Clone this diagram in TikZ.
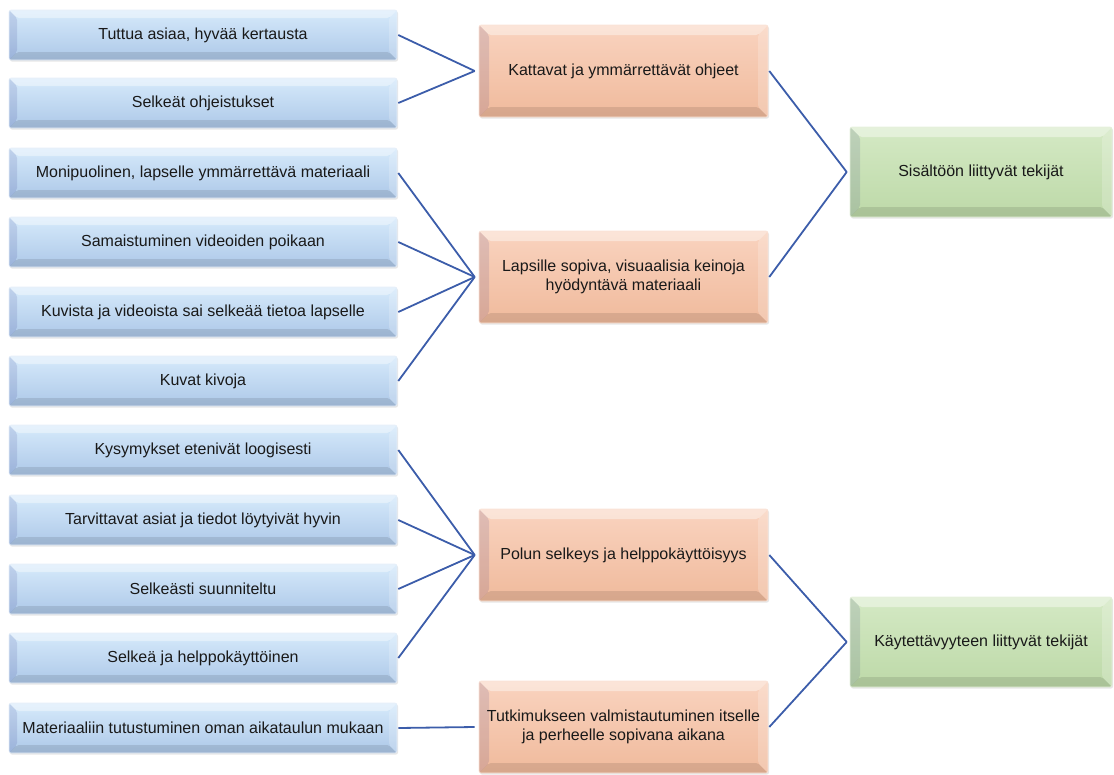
\documentclass[tikz,border=0pt]{standalone}
\usepackage{fontspec}
\setmainfont{Liberation Sans}
\usetikzlibrary{shadows}
\definecolor{bluetop}{HTML}{D6EAFB}
\definecolor{bluebot}{HTML}{ADC8E8}
\definecolor{orgtop}{HTML}{F9D3BF}
\definecolor{orgbot}{HTML}{F0BA9C}
\definecolor{grntop}{HTML}{D4E9C4}
\definecolor{grnbot}{HTML}{BDD9A8}
\definecolor{linkc}{HTML}{3C5DAA}
\tikzset{
  bevel/.style={path picture={
    \coordinate (nw) at (path picture bounding box.north west);
    \coordinate (se) at (path picture bounding box.south east);
    \coordinate (ne) at (path picture bounding box.north east);
    \coordinate (sw) at (path picture bounding box.south west);
    \fill[white,opacity=0.4] (nw) -- (ne) -- ([xshift=-#1pt,yshift=-#1pt]ne) -- ([xshift=#1pt,yshift=-#1pt]nw) -- cycle;
    \fill[black!60!blue,opacity=0.10] (nw) -- ([xshift=#1pt,yshift=-#1pt]nw) -- ([xshift=#1pt,yshift=#1pt]sw) -- (sw) -- cycle;
    \fill[black,opacity=0.10] (sw) -- ([xshift=#1pt,yshift=#1pt]sw) -- ([xshift=-#1pt,yshift=#1pt]se) -- (se) -- cycle;
    \fill[white,opacity=0.2] (ne) -- (se) -- ([xshift=-#1pt,yshift=#1pt]se) -- ([xshift=-#1pt,yshift=-#1pt]ne) -- cycle;
  }},
  base/.style={rectangle, rounded corners=2pt, inner sep=0pt, align=center,
    font=\fontsize{16}{19}\selectfont, text=black!90,
    drop shadow={shadow xshift=1pt, shadow yshift=-1.5pt, opacity=0.2}},
  leaf/.style={base, minimum width=388pt, minimum height=50pt,
    top color=bluetop, bottom color=bluebot, draw=white!70!bluebot, line width=0.6pt, bevel=8},
  mid/.style={base, minimum width=289pt, minimum height=92pt,
    top color=orgtop, bottom color=orgbot, draw=white!60!orgbot, line width=0.6pt, bevel=10},
  root/.style={base, minimum width=262pt, minimum height=90pt,
    top color=grntop, bottom color=grnbot, draw=white!60!grnbot, line width=0.6pt, bevel=10},
  link/.style={draw=linkc, line width=1.8pt}
}
\begin{document}
\begin{tikzpicture}[x=1pt,y=-1pt]
\useasboundingbox (0,0) rectangle (1114,774);
% leaves
\node[leaf] (l1) at (203,35) {Tuttua asiaa, hyvää kertausta};
\node[leaf] (l2) at (203,103) {Selkeät ohjeistukset};
\node[leaf] (l3) at (203,173) {Monipuolinen, lapselle ymmärrettävä materiaali};
\node[leaf] (l4) at (203,242) {Samaistuminen videoiden poikaan};
\node[leaf] (l5) at (203,312) {Kuvista ja videoista sai selkeää tietoa lapselle};
\node[leaf] (l6) at (203,381) {Kuvat kivoja};
\node[leaf] (l7) at (203,450) {Kysymykset etenivät loogisesti};
\node[leaf] (l8) at (203,520) {Tarvittavat asiat ja tiedot löytyivät hyvin};
\node[leaf] (l9) at (203,589) {Selkeästi suunniteltu};
\node[leaf] (l10) at (203,658) {Selkeä ja helppokäyttöinen};
\node[leaf] (l11) at (203,728) {Materiaaliin tutustuminen oman aikataulun mukaan};
% middle
\node[mid] (m1) at (623.5,71) {Kattavat ja ymmärrettävät ohjeet};
\node[mid] (m2) at (623.5,277) {Lapsille sopiva, visuaalisia keinoja\\hyödyntävä materiaali};
\node[mid] (m3) at (623.5,555) {Polun selkeys ja helppokäyttöisyys};
\node[mid] (m4) at (623.5,727) {Tutkimukseen valmistautuminen itselle\\ja perheelle sopivana aikana};
% roots
\node[root] (r1) at (981,172) {Sisältöön liittyvät tekijät};
\node[root] (r2) at (981,642) {Käytettävyyteen liittyvät tekijät};
% links
\foreach \a/\b in {l1/m1,l2/m1,l3/m2,l4/m2,l5/m2,l6/m2,l7/m3,l8/m3,l9/m3,l10/m3,l11/m4}
  \draw[link] ([xshift=1pt]\a.east) -- ([xshift=-4pt]\b.west);
\foreach \a/\b in {m1/r1,m2/r1,m3/r2,m4/r2}
  \draw[link] ([xshift=1pt]\a.east) -- ([xshift=-3pt]\b.west);
\end{tikzpicture}
\end{document}
